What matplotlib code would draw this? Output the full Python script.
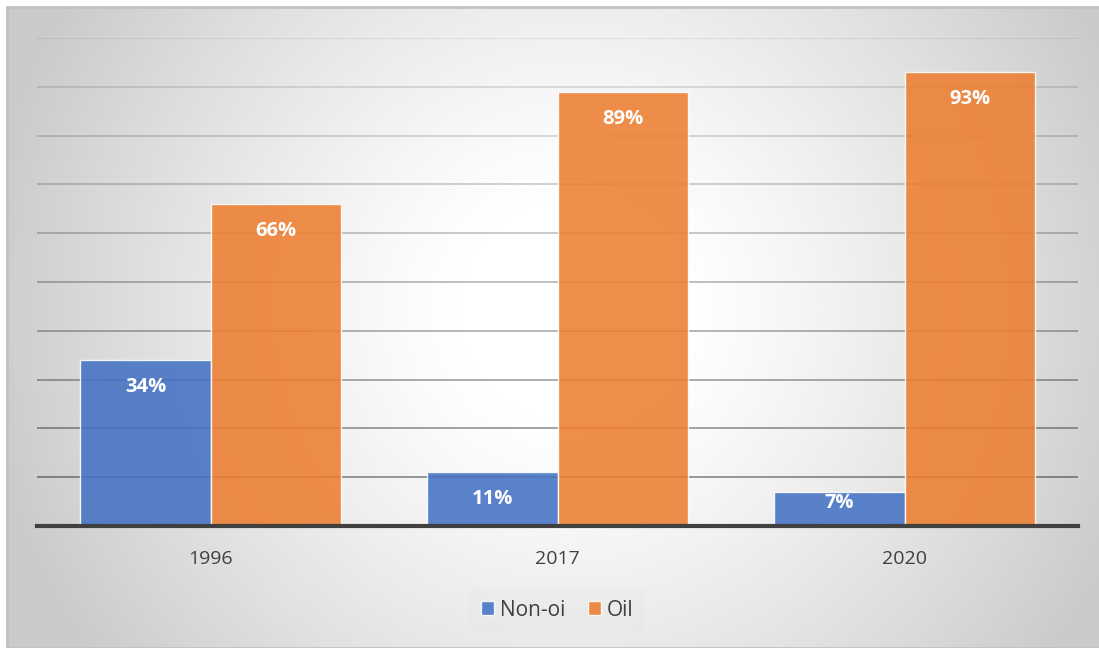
import matplotlib.pyplot as plt
import numpy as np
from matplotlib.patches import Rectangle

years = ["1996", "2017", "2020"]
non_oil = [34, 11, 7]
oil = [66, 89, 93]
series_names = ["Non-oi", "Oil"]

W, H = 1099, 648
fig = plt.figure(figsize=(W / 100, H / 100), dpi=100)
fig.patch.set_facecolor("white")

# plot area in pixel terms
left, right, top, bottom = 37, 1078, 38, 526
ax = fig.add_axes([left / W, 1 - bottom / H, (right - left) / W, (bottom - top) / H])
ax.patch.set_visible(False)

# radial grey-to-white fill of the chart frame
fx0, fy0, fx1, fy1 = 7, 7, W, H
yy, xx = np.mgrid[fy0:fy1, fx0:fx1]
cx, cy, R = 570, 310, 560
d = np.hypot(xx - cx, yy - cy) / R
g = 255 - 48 * np.clip((d - 0.2) / 0.8, 0, 1.08) ** 1.2
g = np.clip(g, 0, 255) / 255
ax.imshow(np.dstack([g, g, g]), extent=(fx0 / W, fx1 / W, 1 - fy1 / H, 1 - fy0 / H),
          transform=fig.transFigure, origin="upper", zorder=0.1,
          clip_on=False, interpolation="bilinear", aspect="auto")
fig.patches.append(Rectangle((fx0 / W, 0), 1, 1 - fy0 / H, transform=fig.transFigure,
                             fill=False, edgecolor="#c2c2c2", lw=2))

ax.set_xlim(-0.5, 2.5)
ax.set_ylim(0, 100)

# gridlines fade towards the top
levels = np.arange(10, 101, 10)
for lv in levels:
    a = 0.42 - 0.3 * (lv - 10) / 80 if lv < 100 else 0.08
    ax.axhline(lv, color="black", alpha=a, linewidth=1.3, zorder=0.5)

x = np.arange(len(years))
w = 0.375
b1 = ax.bar(x - w / 2, non_oil, w, color="#4472C4", alpha=0.88,
            edgecolor=(1, 1, 1, 0.4), linewidth=1, zorder=2, label=series_names[0])
b2 = ax.bar(x + w / 2, oil, w, color="#ED7D31", alpha=0.88,
            edgecolor=(1, 1, 1, 0.4), linewidth=1, zorder=2, label=series_names[1])

# labels sit inside the bar end; short bars push them down less
px_per_unit = (bottom - top) / 100
for bars, vals in ((b1, non_oil), (b2, oil)):
    for rect, v in zip(bars, vals):
        off_px = min(27, v * px_per_unit - 23)
        ax.annotate(f"{v}%", (rect.get_x() + rect.get_width() / 2, v),
                    xytext=(0, -off_px * 0.72), textcoords="offset points",
                    ha="center", va="center", color="white",
                    fontsize=14.5, fontweight="bold", family="Open Sans", zorder=3)

ax.set_yticks([])
ax.set_xticks(x)
ax.set_xticklabels(years, fontsize=14, color="#404040", family="Open Sans")
ax.tick_params(axis="x", length=0, pad=17)
for s in ("left", "right", "top"):
    ax.spines[s].set_visible(False)
ax.spines["bottom"].set_color("#404040")
ax.spines["bottom"].set_linewidth(3)
ax.spines["bottom"].set_zorder(4)

leg = fig.legend(loc="center", bbox_to_anchor=(557 / W, 1 - 610 / H), ncol=2,
                 frameon=True, handlelength=0.65, handleheight=0.65,
                 handletextpad=0.25, columnspacing=1.1, borderpad=0.55,
                 prop={"family": "Open Sans", "size": 15})
leg.get_frame().set_facecolor("#e6e6e6")
leg.get_frame().set_alpha(0.3)
leg.get_frame().set_edgecolor("none")
for t in leg.get_texts():
    t.set_color("#404040")

fig.savefig("out.png", dpi=100)
